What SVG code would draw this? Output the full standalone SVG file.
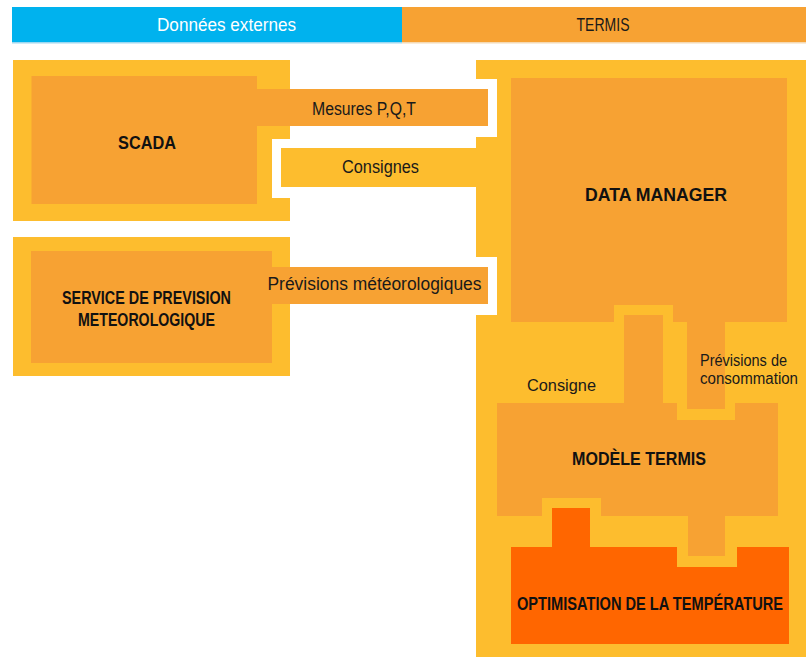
<svg xmlns="http://www.w3.org/2000/svg" width="808" height="657" viewBox="0 0 808 657">
  <style>
    .yel { fill: #FDBD2E; }
    .org { fill: #F7A233; }
    .red { fill: #FF6600; }
    .lbl { font-family: "Liberation Sans", Arial, sans-serif; font-size: 18px; fill: #1a1a1a; text-anchor: middle; }
    .ttl { font-family: "Liberation Sans", Arial, sans-serif; font-size: 19px; font-weight: bold; fill: #111; text-anchor: middle; }
    .sm { font-family: "Liberation Sans", Arial, sans-serif; font-size: 16px; fill: #1a1a1a; text-anchor: start; }
  </style>
  <rect width="808" height="657" fill="#ffffff"/>

  <g id="header">
    <rect x="12" y="7" width="390" height="35" fill="#00B2EE"/>
    <rect x="402" y="7" width="404" height="35" fill="#F7A233"/>
    <rect x="12" y="42" width="390" height="1.5" fill="#9ED8F0"/>
    <rect x="402" y="42" width="404" height="1.5" fill="#F4D9B4"/>
    <text x="226.5" y="31" class="lbl" style="fill:#ffffff" textLength="139" lengthAdjust="spacingAndGlyphs">Données externes</text>
    <text x="603" y="31" class="lbl" textLength="53" lengthAdjust="spacingAndGlyphs">TERMIS</text>
  </g>

  <g id="termis-container">
    <path class="yel" d="M476,60 H806 V657 H476 V315 H497 V257 H476 V137 H497 V79 H476 Z"/>
  </g>

  <g id="scada">
    <path class="yel" d="M13,60 H290 V139 H272 V198 H290 V221 H13 Z"/>
    <rect class="org" x="31.5" y="76" width="225.5" height="128"/>
    <text x="147" y="149" class="ttl" textLength="58" lengthAdjust="spacingAndGlyphs">SCADA</text>
  </g>

  <g id="meteo">
    <rect class="yel" x="13" y="237" width="277" height="139"/>
    <rect class="org" x="31" y="251" width="241" height="112"/>
    <text x="146.5" y="304" class="ttl" style="font-size:18px" textLength="169" lengthAdjust="spacingAndGlyphs">SERVICE DE PREVISION</text>
    <text x="146.5" y="326" class="ttl" style="font-size:18px" textLength="137" lengthAdjust="spacingAndGlyphs">METEOROLOGIQUE</text>
  </g>

  <g id="data-manager">
    <rect class="org" x="511" y="78" width="276" height="244"/>
    <text x="656" y="201" class="ttl" textLength="142" lengthAdjust="spacingAndGlyphs">DATA MANAGER</text>
  </g>

  <g id="modele-termis">
    <rect class="org" x="497" y="403" width="281" height="113"/>
    <text x="639" y="465" class="ttl" style="font-size:18px" textLength="134" lengthAdjust="spacingAndGlyphs">MODÈLE TERMIS</text>
  </g>

  <g id="optimisation">
    <rect class="red" x="511" y="547" width="278" height="97"/>
    <text x="650" y="610" class="ttl" style="font-size:18px" textLength="266" lengthAdjust="spacingAndGlyphs">OPTIMISATION DE LA TEMPÉRATURE</text>
  </g>

  <g id="connectors">
    <rect class="org" x="256" y="89" width="232" height="37"/>
    <text x="364" y="115" class="lbl" textLength="104" lengthAdjust="spacingAndGlyphs">Mesures P,Q,T</text>
    <rect class="yel" x="281" y="148" width="200" height="39"/>
    <text x="380.5" y="173" class="lbl" textLength="77" lengthAdjust="spacingAndGlyphs">Consignes</text>
    <rect class="org" x="271" y="267" width="217" height="37"/>
    <text x="374.5" y="290" class="lbl" textLength="214" lengthAdjust="spacingAndGlyphs">Prévisions météorologiques</text>
    <rect class="yel" x="614" y="305" width="59" height="17"/>
    <rect class="org" x="624" y="315" width="39" height="90"/>
    <text x="561.5" y="391" class="sm" style="text-anchor:middle" textLength="69" lengthAdjust="spacingAndGlyphs">Consigne</text>
    <rect class="yel" x="677" y="400" width="58" height="20"/>
    <rect class="org" x="687" y="320" width="38" height="89"/>
    <text x="700" y="366" class="sm" textLength="87" lengthAdjust="spacingAndGlyphs">Prévisions de</text>
    <text x="700" y="384" class="sm" textLength="98" lengthAdjust="spacingAndGlyphs">consommation</text>
    <rect class="yel" x="542" y="498" width="59" height="20"/>
    <rect class="red" x="552" y="508" width="38" height="41"/>
    <rect class="yel" x="677" y="545" width="60" height="22"/>
    <rect class="org" x="688" y="514" width="37" height="42"/>
  </g>
</svg>
